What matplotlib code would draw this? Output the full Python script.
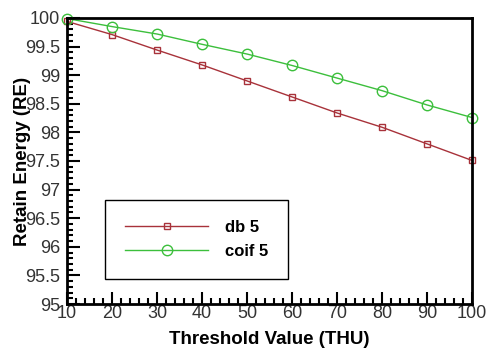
import matplotlib
matplotlib.use("Agg")
import matplotlib.pyplot as plt
from matplotlib.ticker import MultipleLocator

plt.rcParams['font.family'] = ['Liberation Sans', 'DejaVu Sans']

# threshold values and retained energy for the two wavelets
thresholds = [10, 20, 30, 40, 50, 60, 70, 80, 90, 100]
db5 = [99.94, 99.71, 99.44, 99.18, 98.90, 98.62, 98.34, 98.09, 97.80, 97.51]
coif5 = [99.99, 99.85, 99.72, 99.54, 99.37, 99.17, 98.95, 98.73, 98.48, 98.26]

fig = plt.figure(figsize=(4.88, 3.5), dpi=100)
ax = fig.add_axes([0.1373, 0.1314, 0.8299, 0.8172])

ax.plot(thresholds, db5, color='#a8323a', lw=1.0, marker='s', ms=3.8,
        mfc='none', mec='#a8323a', mew=1.0, label='db 5', clip_on=False)
ax.plot(thresholds, coif5, color='#3cbf3c', lw=1.0, marker='o', ms=7.5,
        mfc='none', mec='#3cbf3c', mew=1.0, label='coif 5', clip_on=False)

ax.set_xlim(10, 100)
ax.set_ylim(95, 100)
ax.xaxis.set_major_locator(MultipleLocator(10))
ax.xaxis.set_minor_locator(MultipleLocator(2))
ax.yaxis.set_major_locator(MultipleLocator(0.5))
ax.yaxis.set_minor_locator(MultipleLocator(0.1))
ax.yaxis.set_major_formatter(plt.FuncFormatter(lambda v, p: f'{v:g}'))

ax.tick_params(which='both', direction='in', top=False, right=False,
               labelsize=13, labelcolor='#333333', width=1.5)
ax.tick_params(which='major', length=9)
ax.tick_params(axis='y', which='major', pad=5)
ax.tick_params(axis='x', which='major', pad=1)
ax.tick_params(which='minor', length=4.5)
for sp in ax.spines.values():
    sp.set_linewidth(2.0)

ax.set_xlabel('Threshold Value (THU)', fontsize=13.5, fontweight='bold', labelpad=6)
ax.set_ylabel('Retain Energy (RE)', fontsize=13.5, fontweight='bold')
# the original lets the axis title run over the tick numbers
ax.yaxis.set_label_coords(-0.088, 0.5)

leg = ax.legend(loc='lower left', bbox_to_anchor=(0.0938, 0.0874),
                prop={'weight': 'bold', 'size': 12}, handlelength=5,
                handletextpad=1.0, borderpad=1.2, labelspacing=0.55,
                fancybox=False, edgecolor='black', framealpha=1,
                borderaxespad=0)
leg.get_frame().set_linewidth(1.0)

fig.savefig('out.png', dpi=100)
